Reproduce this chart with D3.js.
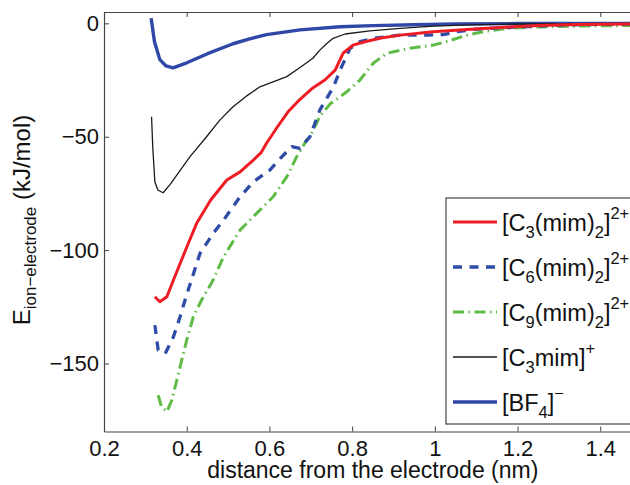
<!DOCTYPE html>
<html>
<head>
<meta charset="utf-8">
<script src="https://cdn.jsdelivr.net/npm/d3@7"></script>
<style>
  body { margin: 0; background: #fff; }
  svg { font-family: "Liberation Sans", Arial, sans-serif; }
</style>
</head>
<body>
<script>
// distance from the electrode (nm) and energy (kJ/mol)
var bf4X = [0.314, 0.322, 0.335, 0.35, 0.367, 0.4, 0.449, 0.512, 0.55, 0.593, 0.674, 0.771, 0.85, 0.95, 1.05, 1.2, 1.35, 1.5];
var bf4Y = [2.3, -8, -16, -18.8, -19.6, -17.4, -13.5, -9, -7, -5, -2.9, -1.5, -1.0, -0.6, -0.3, -0.1, 0, 0];

var c3mimX = [0.315, 0.318, 0.323, 0.33, 0.343, 0.36, 0.373, 0.408, 0.448, 0.48, 0.512, 0.545, 0.577, 0.642, 0.674, 0.705, 0.722, 0.738, 0.754, 0.783, 0.843, 0.916, 0.996, 1.085, 1.2, 1.35, 1.5];
var c3mimY = [-41.2, -55, -69.9, -73.5, -74.7, -71, -67.7, -58.8, -50, -42.7, -36.8, -32, -28, -23.5, -19.5, -15.4, -11.8, -9, -6.6, -4.7, -3.3, -2.2, -1.2, -0.7, -0.3, -0.1, 0];

var c3X = [0.323, 0.335, 0.352, 0.368, 0.384, 0.404, 0.424, 0.458, 0.497, 0.529, 0.561, 0.58, 0.593, 0.62, 0.645, 0.674, 0.705, 0.734, 0.759, 0.778, 0.802, 0.831, 0.87, 0.916, 0.996, 1.078, 1.158, 1.25, 1.35, 1.5];
var c3Y = [-120.6, -122.8, -120.6, -113.2, -105.9, -97, -88.2, -77.9, -69.1, -65.5, -60.3, -57, -52.9, -45.5, -39, -33.5, -28.5, -25, -20.6, -13.2, -9.6, -8.1, -6.5, -5.2, -3.7, -2.7, -1.8, -1.0, -0.5, -0.2];

var c6X = [0.323, 0.331, 0.348, 0.368, 0.384, 0.396, 0.41, 0.432, 0.464, 0.489, 0.529, 0.561, 0.601, 0.626, 0.654, 0.674, 0.698, 0.722, 0.755, 0.771, 0.795, 0.819, 0.851, 0.916, 0.98, 1.02, 1.053, 1.093, 1.133, 1.2, 1.3, 1.4, 1.5];
var c6Y = [-133.1, -144.1, -145.6, -138.2, -129.4, -122, -114, -101.5, -92.6, -86.8, -76.5, -69.9, -64.7, -59.6, -54.4, -55.1, -50, -38.2, -28, -20.6, -11, -8.1, -6.6, -5.2, -5.2, -5.0, -3.7, -2.7, -2.2, -1.6, -0.8, -0.4, -0.2];

var c9X = [0.331, 0.339, 0.352, 0.364, 0.376, 0.388, 0.4, 0.416, 0.436, 0.462, 0.489, 0.529, 0.569, 0.609, 0.642, 0.666, 0.69, 0.698, 0.722, 0.747, 0.766, 0.787, 0.819, 0.851, 0.884, 0.94, 0.996, 1.037, 1.077, 1.117, 1.174, 1.254, 1.35, 1.5];
var c9Y = [-164, -169.1, -171.3, -166.2, -157.4, -148.5, -139.7, -129.4, -122, -113.9, -103, -91.2, -83.8, -76.5, -67.7, -58.8, -51.5, -50, -41, -35.5, -33, -30.2, -25, -17.6, -13.2, -11, -9.6, -7.6, -5.2, -3.7, -2.2, -1.6, -1.2, -0.9];

var xTicks = [0.2, 0.4, 0.6, 0.8, 1.0, 1.2, 1.4];
var yTicks = [0, -50, -100, -150];

var series = [
  {name: ["[C", "3", "(mim)", "2", "]", "2+"], x: c3X, y: c3Y, color: "#ee1d25", width: 3, dash: null},
  {name: ["[C", "6", "(mim)", "2", "]", "2+"], x: c6X, y: c6Y, color: "#2f4ba8", width: 3.3, dash: "9,7.5"},
  {name: ["[C", "9", "(mim)", "2", "]", "2+"], x: c9X, y: c9Y, color: "#5dbb46", width: 3, dash: "11,4.5,1.5,4.5"},
  {name: ["[C", "3", "mim]", "", "", "+"], x: c3mimX, y: c3mimY, color: "#1a1a1a", width: 1.3, dash: null},
  {name: ["[BF", "4", "]", "", "", "\u2212"], x: bf4X, y: bf4Y, color: "#2f47a6", width: 3.4, dash: null}
];

var width = 630, height = 485;
var plotLeft = 104, plotTop = 12, plotBottom = 431.5, plotRight = 641.6;

var svg = d3.select("body").append("svg")
    .attr("width", width)
    .attr("height", height);

var x = d3.scaleLinear().domain([0.2, 1.5]).range([plotLeft, plotRight]);
var y = d3.scaleLinear().domain([-180, 5]).range([plotBottom, plotTop]);

svg.append("clipPath").attr("id", "plot")
  .append("rect").attr("x", plotLeft).attr("y", plotTop)
  .attr("width", plotRight - plotLeft).attr("height", plotBottom - plotTop);

// axes, matlab style ticks pointing inward
var xAxis = d3.axisBottom(x).tickValues(xTicks)
    .tickFormat(function(d) { return String(+d.toFixed(1)); })
    .tickSizeInner(-5).tickSizeOuter(0).tickPadding(9);
var yAxis = d3.axisLeft(y).tickValues(yTicks).tickFormat(d3.format("d"))
    .tickSizeInner(-5).tickSizeOuter(0).tickPadding(5);
var topAxis = d3.axisTop(x).tickValues(xTicks).tickFormat("")
    .tickSizeInner(-5).tickSizeOuter(0);

var gx = svg.append("g").attr("transform", "translate(0," + plotBottom + ")").call(xAxis);
var gy = svg.append("g").attr("transform", "translate(" + plotLeft + ",0)").call(yAxis);
var gt = svg.append("g").attr("transform", "translate(0," + plotTop + ")").call(topAxis);

[gx, gy, gt].forEach(function(g) {
  g.select(".domain").attr("stroke", "#444").attr("stroke-width", 1.2);
  g.selectAll(".tick line").attr("stroke", "#444").attr("stroke-width", 1);
  g.selectAll(".tick text").attr("fill", "#111").attr("font-size", 22)
    .attr("font-family", "Liberation Sans, Arial, sans-serif");
});

// curves
var line = d3.line()
    .x(function(d) { return x(d[0]); })
    .y(function(d) { return y(d[1]); });

svg.append("g").attr("clip-path", "url(#plot)")
  .selectAll("path")
  .data(series.slice().reverse())
  .enter().append("path")
    .attr("d", function(s) { return line(d3.zip(s.x, s.y)); })
    .attr("fill", "none")
    .attr("stroke", function(s) { return s.color; })
    .attr("stroke-width", function(s) { return s.width; })
    .attr("stroke-dasharray", function(s) { return s.dash; })
    .attr("stroke-linejoin", "round");

// axis titles
svg.append("text")
    .attr("x", x(0.85)).attr("y", 478)
    .attr("text-anchor", "middle")
    .attr("font-size", 23)
    .attr("fill", "#111")
    .text("distance from the electrode (nm)");

var yl = svg.append("text")
    .attr("transform", "translate(30,220) rotate(-90)")
    .attr("text-anchor", "middle")
    .attr("font-size", 24)
    .attr("fill", "#111");
yl.append("tspan").text("E");
yl.append("tspan").attr("font-size", 17).attr("dy", 6).text("ion\u2212electrode");
yl.append("tspan").attr("dy", -6).text(" (kJ/mol)");

// legend
svg.append("rect")
    .attr("x", 446).attr("y", 198)
    .attr("width", 200).attr("height", 226)
    .attr("fill", "#fff")
    .attr("stroke", "#444").attr("stroke-width", 1.2);

var entry = svg.append("g").selectAll("g")
  .data(series)
  .enter().append("g")
    .attr("transform", function(s, i) { return "translate(0," + (222 + i * 45) + ")"; });

entry.append("line")
    .attr("x1", 453).attr("x2", 497)
    .attr("stroke", function(s) { return s.color; })
    .attr("stroke-width", function(s) { return s.width; })
    .attr("stroke-dasharray", function(s) { return s.dash; });

var lt = entry.append("text")
    .attr("x", 502).attr("y", 9)
    .attr("font-size", 23.5)
    .attr("fill", "#111");
lt.each(function(s) {
  var t = d3.select(this), n = s.name;
  t.append("tspan").text(n[0]);
  t.append("tspan").attr("font-size", 16.5).attr("dy", 7).text(n[1]);
  t.append("tspan").attr("dy", -7).text(n[2]);
  if (n[3]) {
    t.append("tspan").attr("font-size", 16.5).attr("dy", 7).text(n[3]);
    t.append("tspan").attr("dy", -7).text(n[4]);
  }
  t.append("tspan").attr("font-size", 16.5).attr("dy", -12).text(n[5]);
});
</script>
</body>
</html>
